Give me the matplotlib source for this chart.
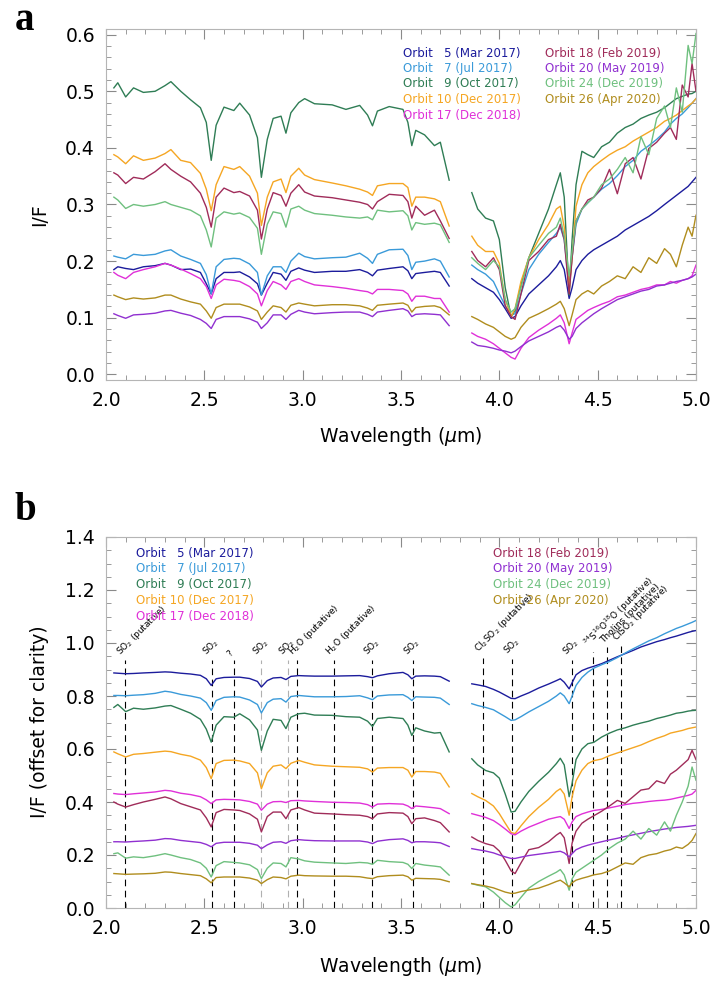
import matplotlib
matplotlib.use("Agg")
import numpy as np
import matplotlib.pyplot as plt
from matplotlib.ticker import MultipleLocator

# =====================================================
# DATA
# =====================================================

WL_LEFT = [2.04, 2.06, 2.10, 2.14, 2.19, 2.25, 2.30, 2.33, 2.38, 2.43, 2.48,
           2.51, 2.535, 2.56, 2.60, 2.65, 2.68, 2.73, 2.77, 2.79, 2.82,
           2.85, 2.89, 2.915, 2.94, 2.98, 3.01, 3.06, 3.15, 3.22, 3.29, 3.33,
           3.355, 3.38, 3.44, 3.51, 3.535, 3.555, 3.575, 3.62, 3.67, 3.70, 3.745]

WL_RIGHT = [3.86, 3.89, 3.93, 3.97, 4.00, 4.03, 4.06, 4.08, 4.11,
            4.15, 4.20, 4.25, 4.29, 4.31, 4.33, 4.355, 4.37, 4.39,
            4.42, 4.45, 4.48, 4.52, 4.56, 4.60, 4.64, 4.68, 4.72,
            4.76, 4.80, 4.84, 4.87, 4.90, 4.93, 4.96, 4.98, 5.00]

ORBITS = ["5", "7", "9", "10", "17", "18", "20", "24", "26"]
DATES = ["Mar 2017", "Jul 2017", "Oct 2017", "Dec 2017", "Dec 2018",
         "Feb 2019", "May 2019", "Dec 2019", "Apr 2020"]
COLORS = ["#1c1c9c", "#3a9ad9", "#2f7d55", "#f5a623", "#e030d8",
          "#a02c5a", "#9030d0", "#6fc07f", "#b08d1e"]

# ---------------- panel a : I/F ----------------
o5_a_left = [.185, .190, .187, .185, .190, .192, .196, .193, .185, .186, .180,
             .160, .142, .169, .180, .180, .181, .172, .160, .140, .161,
             .180, .177, .166, .182, .188, .184, .180, .182, .182, .185, .180,
             .174, .184, .187, .190, .183, .169, .178, .180, .182, .180, .156]
o5_a_right = [.169, .161, .153, .145, .132, .116, .099, .102, .121,
              .142, .158, .174, .190, .201, .185, .134, .153, .185,
              .201, .212, .220, .228, .236, .244, .255, .263, .271,
              .279, .289, .300, .308, .316, .324, .332, .340, .348]

o7_a_left = [.209, .207, .204, .212, .210, .212, .218, .220, .209, .203, .196,
             .176, .142, .190, .203, .205, .204, .195, .180, .140, .174,
             .190, .190, .180, .200, .214, .208, .204, .206, .207, .214, .205,
             .196, .212, .220, .221, .210, .185, .198, .200, .204, .200, .172]
o7_a_right = [.193, .185, .177, .164, .142, .121, .105, .107, .142,
              .185, .212, .233, .249, .260, .238, .153, .206, .265,
              .292, .303, .313, .327, .337, .351, .367, .378, .394,
              .404, .415, .428, .442, .452, .460, .471, .479, .487]

o9_a_left = [.506, .515, .490, .506, .498, .500, .510, .517, .500, .485, .471,
             .445, .378, .440, .472, .466, .479, .458, .418, .348, .415,
             .452, .456, .426, .462, .480, .487, .478, .476, .468, .475, .458,
             .439, .465, .473, .468, .445, .404, .431, .423, .404, .410, .343]
o9_a_right = [.321, .292, .276, .271, .238, .153, .102, .113, .158,
              .206, .249, .292, .335, .356, .313, .140, .238, .335,
              .394, .388, .383, .402, .410, .426, .436, .442, .452,
              .458, .463, .471, .479, .487, .491, .495, .496, .500]

o10_a_left = [.388, .384, .372, .386, .378, .382, .390, .397, .378, .374, .355,
              .327, .289, .335, .367, .362, .367, .350, .320, .263, .313,
              .340, .345, .321, .350, .364, .352, .344, .338, .333, .327, .322,
              .316, .333, .337, .337, .330, .297, .313, .313, .310, .305, .262]
o10_a_right = [.244, .228, .217, .217, .196, .132, .102, .116, .164,
               .206, .238, .265, .292, .297, .260, .148, .206, .297,
               .335, .356, .367, .378, .388, .396, .402, .412, .420,
               .428, .436, .447, .452, .458, .466, .474, .479, .487]

o17_a_left = [.180, .175, .169, .180, .185, .190, .196, .193, .186, .178, .169,
              .155, .134, .158, .168, .166, .164, .155, .142, .121, .148,
              .164, .158, .150, .164, .169, .164, .158, .155, .152, .148, .146,
              .142, .150, .150, .148, .142, .129, .138, .138, .134, .134, .110]
o17_a_right = [.073, .067, .062, .054, .046, .038, .030, .027, .046,
               .065, .078, .089, .099, .105, .091, .054, .073, .097,
               .105, .113, .118, .124, .129, .137, .140, .145, .150,
               .153, .158, .158, .164, .161, .166, .169, .174, .193]

o18_a_left = [.356, .352, .337, .348, .345, .358, .372, .362, .350, .340, .320,
              .295, .260, .313, .329, .321, .323, .315, .290, .239, .292,
              .321, .316, .297, .320, .335, .322, .315, .312, .308, .304, .300,
              .292, .305, .318, .316, .305, .276, .297, .281, .290, .271, .240]
o18_a_right = [.217, .201, .190, .206, .185, .121, .102, .097, .142,
               .201, .217, .238, .244, .265, .238, .142, .206, .271,
               .292, .308, .313, .329, .362, .319, .372, .383, .345,
               .399, .410, .426, .436, .415, .511, .490, .549, .500]

o20_a_left = [.107, .104, .099, .105, .106, .108, .112, .113, .108, .104, .097,
              .090, .081, .097, .102, .102, .102, .098, .092, .081, .091,
              .105, .105, .097, .106, .113, .110, .107, .109, .110, .110, .106,
              .102, .110, .113, .116, .112, .102, .106, .107, .106, .105, .086]
o20_a_right = [.057, .051, .049, .046, .043, .041, .038, .041, .049,
               .059, .067, .075, .083, .086, .078, .062, .067, .081,
               .091, .099, .107, .116, .124, .132, .137, .142, .147,
               .150, .156, .158, .161, .164, .166, .169, .172, .177]

o24_a_left = [.313, .308, .293, .300, .297, .300, .305, .300, .295, .290, .280,
              .255, .225, .276, .287, .283, .285, .277, .258, .212, .265,
              .287, .284, .260, .292, .297, .290, .284, .281, .278, .276, .278,
              .273, .290, .287, .289, .280, .255, .268, .265, .267, .264, .233]
o24_a_right = [.206, .196, .185, .201, .190, .132, .110, .116, .153,
               .206, .228, .249, .260, .276, .244, .174, .217, .271,
               .292, .303, .313, .335, .345, .362, .383, .356, .420,
               .388, .452, .474, .436, .506, .463, .581, .549, .602]

o26_a_left = [.140, .137, .132, .135, .133, .135, .140, .140, .133, .128, .124,
              .112, .099, .118, .124, .124, .124, .119, .112, .097, .110,
              .121, .118, .110, .122, .126, .124, .121, .123, .123, .121, .117,
              .113, .122, .124, .126, .122, .110, .118, .120, .121, .118, .105]
o26_a_right = [.102, .097, .089, .083, .075, .067, .062, .065, .083,
               .099, .107, .116, .124, .129, .116, .086, .105, .132,
               .142, .148, .142, .156, .164, .174, .169, .190, .180,
               .206, .196, .222, .212, .190, .228, .260, .244, .281]

# ---------------- panel b : offset I/F ----------------
o5_b_left = [.887, .886, .884, .885, .887, .889, .891, .890, .886, .883, .878,
             .865, .840, .865, .870, .871, .871, .866, .855, .834, .858,
             .868, .870, .862, .874, .877, .876, .875, .875, .876, .877, .873,
             .869, .876, .884, .889, .880, .865, .875, .876, .875, .873, .856]
o5_b_right = [.846, .842, .836, .825, .815, .803, .791, .790, .800,
              .812, .830, .845, .858, .865, .852, .827, .850, .880,
              .896, .905, .912, .922, .935, .948, .960, .972, .985,
              .995, 1.005, 1.013, 1.020, 1.026, 1.033, 1.040, 1.044, 1.047]

o7_b_left = [.802, .802, .801, .803, .805, .810, .818, .815, .806, .800, .792,
             .775, .746, .783, .795, .797, .796, .785, .768, .736, .775,
             .788, .790, .777, .798, .802, .800, .797, .797, .798, .801, .793,
             .786, .800, .804, .805, .795, .783, .797, .796, .795, .792, .768]
o7_b_right = [.771, .764, .757, .748, .735, .722, .708, .710, .722,
              .740, .760, .780, .800, .812, .800, .771, .800, .840,
              .870, .890, .905, .918, .930, .945, .962, .978, .993,
              1.008, 1.020, 1.035, 1.045, 1.055, 1.063, 1.072, 1.078, 1.085]

o9_b_left = [.757, .768, .741, .754, .750, .755, .762, .764, .750, .735, .712,
             .675, .626, .690, .722, .720, .733, .710, .672, .595, .668,
             .712, .708, .677, .720, .733, .735, .728, .727, .722, .720, .705,
             .685, .715, .720, .715, .690, .651, .680, .668, .660, .662, .589]
o9_b_right = [.563, .540, .519, .510, .490, .430, .362, .365, .400,
              .440, .478, .512, .545, .565, .540, .420, .470, .560,
              .600, .620, .625, .645, .660, .672, .680, .690, .698,
              .705, .715, .722, .728, .735, .738, .743, .745, .746]

o10_b_left = [.589, .582, .570, .580, .583, .588, .592, .590, .580, .573, .558,
              .530, .488, .545, .557, .558, .555, .545, .510, .450, .510,
              .535, .540, .526, .546, .557, .550, .540, .535, .533, .531, .525,
              .513, .528, .530, .530, .520, .494, .515, .515, .513, .508, .457]
o10_b_right = [.432, .420, .406, .385, .356, .320, .285, .281, .310,
               .345, .380, .410, .440, .450, .430, .350, .420, .480,
               .520, .545, .556, .562, .575, .585, .595, .605, .615,
               .628, .640, .650, .660, .665, .670, .677, .680, .683]

o17_b_left = [.432, .430, .428, .431, .434, .438, .444, .442, .433, .428, .420,
              .408, .394, .408, .410, .409, .408, .402, .392, .369, .392,
              .401, .402, .398, .405, .406, .404, .402, .399, .398, .396, .390,
              .381, .392, .394, .392, .385, .375, .385, .382, .378, .375, .356]
o17_b_right = [.356, .350, .342, .330, .315, .298, .280, .276, .290,
               .305, .320, .335, .342, .345, .335, .300, .325, .345,
               .355, .362, .368, .372, .378, .384, .390, .395, .398,
               .402, .405, .407, .410, .415, .420, .425, .430, .444]

o18_b_left = [.400, .392, .381, .390, .400, .410, .419, .412, .394, .382, .370,
              .340, .306, .360, .372, .370, .368, .355, .335, .287, .345,
              .362, .362, .337, .370, .379, .370, .358, .355, .352, .350, .345,
              .337, .355, .360, .358, .345, .318, .337, .340, .330, .322, .287]
o18_b_right = [.268, .255, .243, .235, .215, .180, .140, .130, .170,
               .220, .228, .250, .275, .285, .265, .168, .245, .290,
               .320, .335, .348, .365, .385, .406, .395, .420, .445,
               .450, .480, .470, .505, .520, .540, .560, .595, .560]

o20_b_left = [.250, .250, .249, .251, .253, .256, .262, .261, .255, .251, .247,
              .240, .231, .244, .248, .248, .248, .244, .237, .224, .238,
              .248, .250, .244, .254, .258, .256, .254, .253, .253, .253, .249,
              .243, .252, .258, .261, .255, .246, .250, .250, .248, .246, .232]
o20_b_right = [.224, .220, .215, .208, .200, .193, .187, .187, .192,
               .198, .203, .208, .212, .214, .208, .193, .205, .220,
               .230, .237, .243, .250, .257, .263, .270, .276, .282,
               .288, .293, .298, .301, .304, .306, .308, .310, .312]

o24_b_left = [.205, .208, .188, .193, .190, .197, .205, .200, .190, .183, .170,
              .150, .117, .160, .175, .172, .170, .163, .145, .111, .150,
              .170, .168, .155, .190, .185, .178, .173, .170, .168, .172, .170,
              .165, .180, .175, .172, .165, .149, .168, .162, .158, .155, .124]
o24_b_right = [.092, .086, .080, .060, .040, .020, .004, .012, .040,
               .075, .100, .120, .135, .145, .125, .067, .110, .135,
               .150, .165, .180, .200, .225, .245, .260, .290, .260,
               .300, .275, .325, .290, .350, .400, .460, .532, .482]

o26_b_left = [.130, .129, .127, .128, .129, .131, .136, .135, .130, .126, .122,
              .110, .095, .115, .117, .117, .117, .113, .105, .092, .107,
              .117, .115, .110, .120, .124, .122, .121, .120, .120, .118, .113,
              .111, .118, .122, .124, .118, .105, .112, .111, .110, .108, .099]
o26_b_right = [.092, .088, .083, .076, .068, .060, .055, .056, .062,
               .068, .075, .088, .100, .105, .095, .080, .095, .105,
               .112, .118, .125, .130, .140, .155, .170, .165, .190,
               .200, .205, .215, .220, .230, .225, .240, .255, .281]

# absorption features marked in panel b
FEATURE_WL = [2.097, 2.538, 2.649, 2.789, 2.924, 2.971, 3.161, 3.353, 3.56,
              3.919, 4.066, 4.368, 4.478, 4.549, 4.62]
FEATURE_TOP = [0.935, 0.935, 0.935, 0.935, 0.935, 0.935, 0.935, 0.935, 0.935,
               0.945, 0.94, 0.935, 0.965, 0.985, 0.99]
FEATURE_LABELS = ["SO$_2$ (putative)", "SO$_2$", "?", "SO$_2$", "SO$_2$",
                  "H$_2$O (putative)", "H$_2$O (putative)", "SO$_2$", "SO$_2$",
                  "Cl$_2$SO$_2$ (putative)", "SO$_2$", "SO$_2$",
                  "$^{34}$S$^{16}$O$^{18}$O (putative)", "Tholins (putative)",
                  "ClSO$_2$ (putative)"]
FEATURE_GREY = [2.789, 2.924]

A_LEFT = [o5_a_left, o7_a_left, o9_a_left, o10_a_left, o17_a_left,
          o18_a_left, o20_a_left, o24_a_left, o26_a_left]
A_RIGHT = [o5_a_right, o7_a_right, o9_a_right, o10_a_right, o17_a_right,
           o18_a_right, o20_a_right, o24_a_right, o26_a_right]
B_LEFT = [o5_b_left, o7_b_left, o9_b_left, o10_b_left, o17_b_left,
          o18_b_left, o20_b_left, o24_b_left, o26_b_left]
B_RIGHT = [o5_b_right, o7_b_right, o9_b_right, o10_b_right, o17_b_right,
           o18_b_right, o20_b_right, o24_b_right, o26_b_right]

# =====================================================
# FIGURE
# =====================================================

W, H = 714, 981
fig = plt.figure(figsize=(W / 100, H / 100), dpi=100)


def px(x, y):
    return x / W, 1 - y / H


AX_L, AX_R = 106, 696
ax_a = fig.add_axes([AX_L / W, 1 - 380 / H, (AX_R - AX_L) / W, (380 - 29) / H])
ax_b = fig.add_axes([AX_L / W, 1 - 908 / H, (AX_R - AX_L) / W, (908 - 537) / H])


def style_axis(ax, ymin, ymax, ymaj, ymin_step):
    ax.set_xlim(2.0, 5.0)
    ax.set_ylim(ymin, ymax)
    ax.xaxis.set_major_locator(MultipleLocator(0.5))
    ax.xaxis.set_minor_locator(MultipleLocator(0.1))
    ax.yaxis.set_major_locator(MultipleLocator(ymaj))
    ax.yaxis.set_minor_locator(MultipleLocator(ymin_step))
    ax.xaxis.set_major_formatter(plt.FormatStrFormatter("%.1f"))
    ax.yaxis.set_major_formatter(plt.FormatStrFormatter("%.1f"))
    ax.tick_params(which="both", direction="in", top=True, right=True,
                   color="#8a8a8a", labelsize=13.5, pad=8)
    ax.tick_params(which="major", length=7, width=0.8)
    ax.tick_params(which="minor", length=3.5, width=0.6)
    for s in ax.spines.values():
        s.set_color("#b5b5b5")
        s.set_linewidth(0.8)


style_axis(ax_a, -0.01, 0.61, 0.1, 0.02)
style_axis(ax_b, 0.0, 1.4, 0.2, 0.05)

for i in range(len(ORBITS)):
    ax_a.plot(WL_LEFT, A_LEFT[i], color=COLORS[i], lw=1.0)
    ax_a.plot(WL_RIGHT, A_RIGHT[i], color=COLORS[i], lw=1.0)
    ax_b.plot(WL_LEFT, B_LEFT[i], color=COLORS[i], lw=1.0)
    ax_b.plot(WL_RIGHT, B_RIGHT[i], color=COLORS[i], lw=1.0)

# feature markers
for wl, top, lab in zip(FEATURE_WL, FEATURE_TOP, FEATURE_LABELS):
    col = "#b0b0b0" if wl in FEATURE_GREY else "black"
    ax_b.plot([wl, wl], [0.0, top], color=col, lw=0.8, ls=(0, (6, 4)), zorder=1)
    ax_b.text(wl - 0.012, top + 0.008, lab, rotation=45, rotation_mode="anchor",
              ha="left", va="bottom", fontsize=6.5)

# legends
labels = ["Orbit %s (%s)" % (o.rjust(2).replace(" ", "  "), d)
          for o, d in zip(ORBITS, DATES)]
for i, lab in enumerate(labels):
    col = 0 if i < 5 else 1
    row = i if i < 5 else i - 5
    xa = 403 if col == 0 else 545
    xb = 136 if col == 0 else 493
    fig.text(*px(xa, 53 + row * 15.5), lab, color=COLORS[i], fontsize=8.5,
             ha="left", va="center")
    fig.text(*px(xb, 553 + row * 15.8), lab, color=COLORS[i], fontsize=8.5,
             ha="left", va="center")

# axis titles
xc = (AX_L + AX_R) / 2
fig.text(*px(xc, 437), "Wavelength ($\\mu$m)", fontsize=13.5, ha="center", va="center")
fig.text(*px(xc, 966), "Wavelength ($\\mu$m)", fontsize=13.5, ha="center", va="center")
fig.text(*px(40, 215), "I/F", fontsize=13.5, rotation=90, ha="center", va="center")
fig.text(*px(40, 722), "I/F (offset for clarity)", fontsize=13.5, rotation=90,
         ha="center", va="center")

# panel letters
fig.text(*px(25, 20), "a", family="Liberation Serif", fontweight="bold",
         fontsize=28, ha="center", va="center")
fig.text(*px(25, 510), "b", family="Liberation Serif", fontweight="bold",
         fontsize=28, ha="center", va="center")

fig.savefig("out.png", dpi=100)
